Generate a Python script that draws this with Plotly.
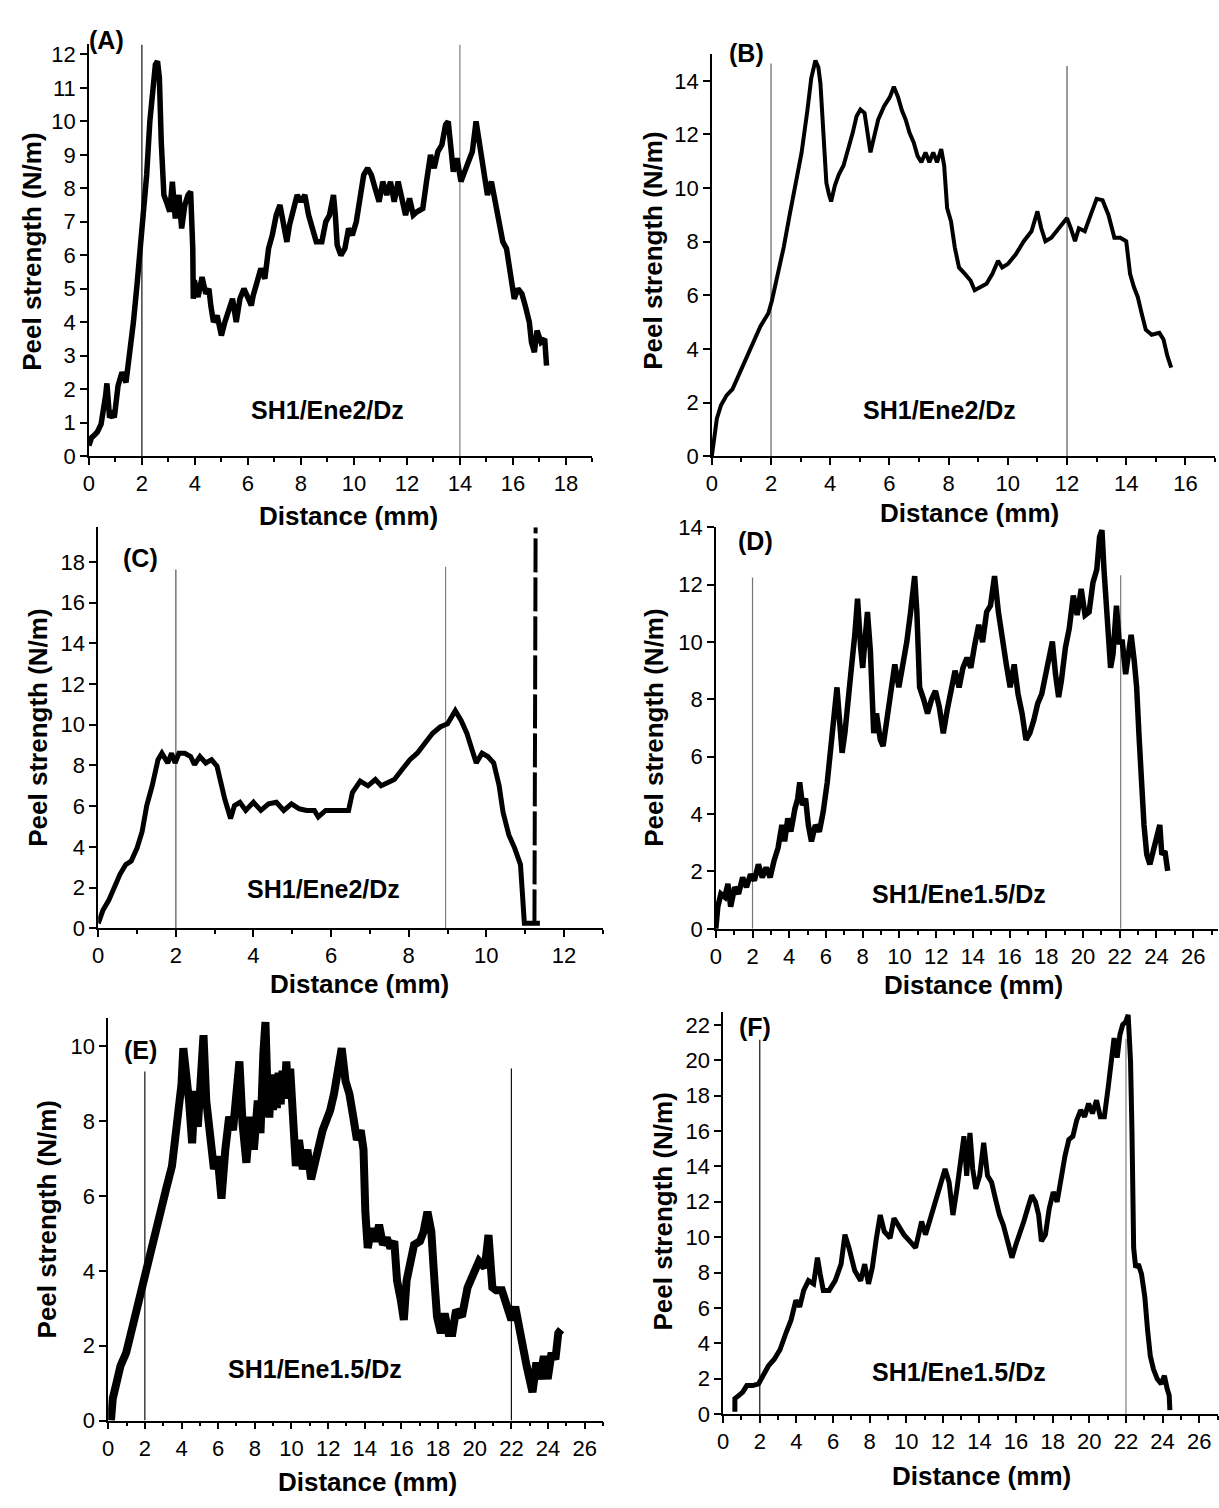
import plotly.graph_objects as go

W, H = 1219, 1508

# ---------------- data: peel strength (N/m) vs distance (mm) ----------------
# (A) SH1/Ene2/Dz
a_x = [0.00, 0.10, 0.20, 0.32, 0.46, 0.57, 0.63, 0.68, 0.72, 0.78, 0.88, 0.96,
       1.10, 1.25, 1.40, 1.54, 1.68, 1.82, 1.94, 2.04, 2.18, 2.30, 2.40, 2.51,
       2.59, 2.66, 2.73, 2.79, 2.83, 2.97, 3.05, 3.15, 3.26, 3.40, 3.50, 3.62,
       3.74, 3.84, 3.90, 3.92, 3.94, 3.98, 4.12, 4.27, 4.41, 4.53, 4.60, 4.70,
       4.84, 5.00, 5.13, 5.27, 5.42, 5.56, 5.70, 5.85, 5.99, 6.13, 6.20, 6.35,
       6.49, 6.64, 6.78, 6.92, 7.07, 7.21, 7.36, 7.47, 7.57, 7.72, 7.86, 8.00,
       8.15, 8.29, 8.43, 8.58, 8.79, 8.94, 9.08, 9.23, 9.30, 9.37, 9.51, 9.66,
       9.80, 9.94, 10.09, 10.23, 10.37, 10.52, 10.66, 10.80, 10.95, 11.09, 11.24, 11.38,
       11.52, 11.67, 11.81, 11.95, 12.10, 12.24, 12.38, 12.60, 12.74, 12.89, 13.03, 13.17,
       13.32, 13.46, 13.56, 13.65, 13.75, 13.89, 14.04, 14.18, 14.33, 14.47, 14.61, 14.76,
       14.90, 15.04, 15.19, 15.33, 15.47, 15.62, 15.76, 15.90, 16.05, 16.19, 16.34, 16.48,
       16.62, 16.70, 16.81, 16.91, 17.06, 17.20, 17.27]
a_y = [0.31, 0.55, 0.62, 0.72, 0.95, 1.40, 1.80, 2.17, 1.50, 1.15, 1.25, 1.15,
       2.10, 2.50, 2.20, 3.00, 4.00, 5.15, 6.20, 7.40, 8.40, 10.00, 10.80, 11.70,
       11.80, 11.30, 9.40, 8.40, 7.80, 7.50, 7.30, 8.20, 7.10, 7.80, 6.80, 7.50,
       7.80, 7.90, 6.90, 6.20, 4.70, 5.25, 4.75, 5.35, 4.85, 5.00, 4.50, 4.00,
       4.20, 3.60, 4.00, 4.30, 4.70, 4.00, 4.70, 5.00, 4.70, 4.50, 4.80, 5.25,
       5.60, 5.30, 6.20, 6.60, 7.20, 7.50, 6.90, 6.40, 6.90, 7.40, 7.80, 7.60,
       7.80, 7.20, 6.80, 6.40, 6.40, 7.00, 7.20, 7.80, 7.20, 6.30, 6.00, 6.20,
       6.80, 6.60, 7.00, 7.60, 8.40, 8.60, 8.40, 8.00, 7.60, 8.20, 7.80, 8.20,
       7.60, 8.20, 7.60, 7.20, 7.70, 7.20, 7.30, 7.40, 8.20, 9.00, 8.60, 9.10,
       9.30, 9.90, 10.00, 9.10, 8.50, 8.90, 8.20, 8.50, 8.80, 9.10, 10.00, 9.30,
       8.50, 7.80, 8.20, 7.60, 7.20, 6.40, 6.20, 5.40, 4.70, 5.00, 4.85, 4.45,
       4.00, 3.40, 3.10, 3.75, 3.40, 3.50, 2.70]

# (B) SH1/Ene2/Dz
b_x = [0.00, 0.08, 0.17, 0.31, 0.50, 0.70, 0.90, 1.10, 1.37, 1.64, 1.91, 2.03,
       2.23, 2.43, 2.63, 2.83, 3.03, 3.23, 3.36, 3.50, 3.60, 3.67, 3.73, 3.80,
       3.87, 3.96, 4.03, 4.16, 4.29, 4.45, 4.62, 4.76, 4.89, 5.02, 5.16, 5.25,
       5.36, 5.49, 5.62, 5.82, 6.02, 6.15, 6.29, 6.42, 6.55, 6.68, 6.82, 6.95,
       7.08, 7.22, 7.35, 7.48, 7.61, 7.75, 7.85, 7.95, 8.08, 8.21, 8.35, 8.55,
       8.74, 8.88, 9.08, 9.28, 9.48, 9.67, 9.81, 10.00, 10.27, 10.54, 10.80, 11.00,
       11.13, 11.27, 11.47, 11.73, 12.00, 12.13, 12.27, 12.40, 12.60, 12.80, 13.00, 13.20,
       13.40, 13.60, 13.80, 14.00, 14.13, 14.26, 14.39, 14.52, 14.66, 14.86, 15.12, 15.26,
       15.39, 15.52]
b_y = [0.00, 0.80, 1.40, 1.90, 2.27, 2.50, 3.00, 3.50, 4.10, 4.84, 5.33, 5.80,
       6.80, 7.80, 9.00, 10.20, 11.30, 12.90, 14.10, 14.76, 14.50, 13.90, 12.60, 11.45,
       10.20, 9.75, 9.50, 10.10, 10.50, 10.84, 11.45, 12.06, 12.68, 12.93, 12.80, 12.19,
       11.33, 11.94, 12.55, 13.05, 13.40, 13.78, 13.40, 12.90, 12.55, 12.06, 11.70, 11.20,
       10.96, 11.33, 10.96, 11.33, 10.96, 11.45, 10.84, 9.25, 8.76, 7.78, 7.04, 6.80,
       6.55, 6.19, 6.31, 6.43, 6.80, 7.29, 7.04, 7.17, 7.53, 8.02, 8.39, 9.13,
       8.50, 8.02, 8.15, 8.50, 8.88, 8.50, 8.02, 8.50, 8.39, 9.00, 9.60, 9.55,
       9.00, 8.15, 8.15, 8.02, 6.80, 6.31, 5.94, 5.33, 4.72, 4.53, 4.60, 4.35,
       3.74, 3.30]

# (C) SH1/Ene2/Dz
c_x = [0.00, 0.12, 0.27, 0.41, 0.56, 0.71, 0.85, 1.00, 1.13, 1.25, 1.39, 1.54,
       1.64, 1.79, 1.89, 1.98, 2.08, 2.23, 2.38, 2.48, 2.62, 2.77, 2.92, 3.06,
       3.16, 3.26, 3.41, 3.51, 3.65, 3.80, 4.00, 4.19, 4.39, 4.59, 4.78, 4.98,
       5.18, 5.37, 5.57, 5.67, 5.86, 6.06, 6.26, 6.45, 6.55, 6.75, 6.95, 7.14,
       7.29, 7.44, 7.63, 7.83, 8.03, 8.22, 8.42, 8.61, 8.81, 9.00, 9.20, 9.35,
       9.50, 9.65, 9.74, 9.89, 10.04, 10.19, 10.33, 10.43, 10.58, 10.73, 10.88, 10.92,
       10.97, 10.98, 11.12, 11.25, 11.38]
c_y = [0.24, 0.88, 1.37, 2.00, 2.65, 3.13, 3.30, 3.94, 4.74, 6.03, 7.00, 8.28,
       8.60, 8.12, 8.60, 8.12, 8.60, 8.60, 8.44, 8.04, 8.44, 8.12, 8.28, 7.96,
       7.00, 6.35, 5.39, 6.03, 6.19, 5.79, 6.19, 5.79, 6.11, 6.19, 5.79, 6.11,
       5.87, 5.79, 5.79, 5.47, 5.79, 5.79, 5.79, 5.79, 6.67, 7.23, 7.00, 7.31,
       7.00, 7.15, 7.31, 7.80, 8.28, 8.60, 9.08, 9.57, 9.89, 10.05, 10.69, 10.21,
       9.57, 8.60, 8.12, 8.60, 8.44, 8.12, 7.00, 5.71, 4.58, 3.94, 3.13, 2.00,
       0.72, 0.24, 0.24, 0.24, 0.24]
# final rupture spike
c_spike_x = [11.24, 11.27]
c_spike_y = [0.24, 19.70]

# (D) SH1/Ene1.5/Dz
d_x = [0.00, 0.11, 0.28, 0.49, 0.66, 0.81, 1.03, 1.24, 1.46, 1.67, 1.89, 2.10,
       2.32, 2.53, 2.74, 2.96, 3.17, 3.39, 3.60, 3.75, 3.92, 4.09, 4.31, 4.46,
       4.57, 4.72, 4.89, 5.04, 5.21, 5.42, 5.64, 5.85, 6.07, 6.24, 6.39, 6.60,
       6.71, 6.88, 7.03, 7.18, 7.35, 7.57, 7.72, 7.89, 8.00, 8.15, 8.26, 8.42,
       8.60, 8.75, 8.96, 9.11, 9.32, 9.54, 9.75, 9.97, 10.18, 10.40, 10.61, 10.83,
       10.95, 11.10, 11.32, 11.53, 11.75, 11.96, 12.17, 12.39, 12.60, 12.82, 13.03, 13.25,
       13.46, 13.68, 13.89, 14.10, 14.32, 14.53, 14.75, 14.96, 15.18, 15.39, 15.61, 15.82,
       16.03, 16.25, 16.46, 16.68, 16.89, 17.10, 17.32, 17.53, 17.75, 17.96, 18.18, 18.33,
       18.50, 18.67, 18.82, 19.04, 19.25, 19.47, 19.68, 19.90, 20.11, 20.33, 20.54, 20.75,
       20.90, 21.03, 21.14, 21.25, 21.40, 21.50, 21.63, 21.82, 21.97, 22.14, 22.32, 22.47,
       22.62, 22.79, 22.92, 23.05, 23.17, 23.32, 23.47, 23.64, 23.82, 24.03, 24.18, 24.29,
       24.46, 24.61]
d_y = [0.00, 0.77, 1.22, 1.11, 1.57, 0.77, 1.45, 1.22, 1.79, 1.45, 1.90, 1.68,
       2.25, 1.79, 2.14, 1.79, 2.37, 2.82, 3.62, 3.05, 3.85, 3.39, 4.19, 4.54,
       5.11, 4.31, 4.54, 3.62, 3.05, 3.62, 3.39, 4.08, 5.11, 6.25, 6.82, 8.42,
       7.51, 6.14, 6.82, 7.62, 8.88, 10.25, 11.51, 9.80, 9.10, 10.25, 11.05, 9.68,
       6.82, 7.51, 6.59, 6.37, 7.28, 8.00, 9.22, 8.42, 9.10, 10.00, 11.05, 12.30,
       11.05, 8.42, 8.00, 7.51, 8.00, 8.30, 7.74, 6.82, 7.62, 8.42, 9.00, 8.42,
       9.10, 9.45, 9.10, 9.90, 10.60, 10.00, 11.05, 11.27, 12.30, 11.05, 10.00, 9.22,
       8.42, 9.22, 8.19, 7.51, 6.59, 6.82, 7.28, 7.85, 8.19, 8.88, 9.45, 10.02,
       8.88, 8.08, 8.65, 9.80, 10.48, 11.62, 10.94, 11.85, 10.94, 11.05, 12.07, 12.53,
       13.67, 13.90, 12.53, 11.62, 10.48, 9.10, 9.56, 11.27, 10.00, 10.00, 8.88, 9.68,
       10.25, 9.33, 8.42, 6.71, 4.88, 3.62, 2.59, 2.25, 2.71, 3.17, 3.62, 2.59,
       2.71, 2.02]

# (E) SH1/Ene1.5/Dz
e_x = [0.15, 0.25, 0.46, 0.67, 0.98, 1.19, 1.50, 1.81, 2.02, 2.23, 2.54, 2.85,
       3.16, 3.48, 3.79, 4.00, 4.10, 4.25, 4.41, 4.58, 4.73, 4.89, 5.04, 5.20,
       5.35, 5.56, 5.77, 5.97, 6.18, 6.39, 6.60, 6.81, 7.02, 7.16, 7.33, 7.54,
       7.75, 7.95, 8.16, 8.31, 8.47, 8.58, 8.68, 8.79, 8.89, 8.99, 9.10, 9.20,
       9.30, 9.41, 9.51, 9.62, 9.72, 9.83, 9.93, 10.08, 10.24, 10.41, 10.62, 10.87,
       11.07, 11.28, 11.49, 11.70, 11.91, 12.11, 12.32, 12.53, 12.74, 12.95, 13.16, 13.37,
       13.57, 13.78, 13.93, 14.03, 14.16, 14.37, 14.57, 14.78, 14.99, 15.20, 15.40, 15.61,
       15.76, 15.97, 16.13, 16.28, 16.49, 16.69, 17.01, 17.21, 17.42, 17.63, 17.80, 17.94,
       18.15, 18.36, 18.57, 18.78, 18.98, 19.30, 19.61, 19.92, 20.23, 20.55, 20.75, 20.96,
       21.17, 21.48, 21.79, 22.00, 22.21, 22.42, 22.62, 22.83, 23.04, 23.15, 23.36, 23.56,
       23.77, 23.98, 24.19, 24.40, 24.56, 24.71]
e_y = [0.00, 0.59, 1.02, 1.46, 1.81, 2.25, 2.86, 3.39, 3.91, 4.26, 4.96, 5.67,
       6.19, 6.80, 7.94, 8.99, 9.95, 9.33, 8.55, 7.41, 8.81, 7.85, 9.42, 10.30,
       8.55, 7.41, 6.72, 7.06, 5.93, 7.24, 8.12, 7.76, 8.99, 9.60, 7.94, 6.89,
       8.12, 7.24, 8.55, 7.68, 9.86, 10.65, 8.99, 8.10, 9.20, 8.30, 9.25, 8.35,
       9.30, 8.45, 9.35, 8.60, 9.60, 8.70, 9.40, 8.12, 6.80, 7.50, 6.72, 7.24,
       6.45, 6.89, 7.41, 7.76, 8.03, 8.29, 8.73, 9.25, 9.95, 9.07, 8.73, 8.12,
       7.50, 7.76, 7.24, 5.58, 4.61, 5.14, 4.79, 5.23, 4.70, 4.88, 4.61, 4.79,
       3.74, 3.21, 2.69, 3.74, 4.35, 4.70, 4.79, 5.05, 5.58, 5.05, 3.74, 2.78,
       2.34, 2.86, 2.34, 2.34, 2.95, 2.78, 3.56, 3.91, 4.26, 4.09, 4.96, 3.56,
       3.48, 3.48, 2.95, 2.69, 3.04, 2.34, 1.99, 1.46, 1.11, 0.76, 1.55, 1.11,
       1.72, 1.11, 1.81, 1.64, 2.34, 2.43]

# (F) SH1/Ene1.5/Dz
f_x = [0.64, 0.64, 0.86, 1.07, 1.29, 1.61, 1.93, 2.15, 2.47, 2.79, 3.11, 3.43,
       3.71, 3.97, 4.18, 4.40, 4.66, 4.94, 5.15, 5.30, 5.47, 5.79, 6.12, 6.44,
       6.65, 6.87, 7.19, 7.51, 7.73, 7.94, 8.15, 8.37, 8.58, 8.80, 9.12, 9.33,
       9.55, 9.87, 10.19, 10.51, 10.84, 11.05, 11.27, 11.48, 11.70, 11.91, 12.12, 12.34,
       12.55, 12.77, 12.98, 13.15, 13.30, 13.48, 13.63, 13.80, 14.01, 14.23, 14.44, 14.66,
       14.87, 15.09, 15.30, 15.45, 15.67, 15.77, 15.99, 16.20, 16.42, 16.63, 16.85, 17.06,
       17.23, 17.38, 17.60, 17.81, 18.03, 18.24, 18.45, 18.67, 18.88, 19.10, 19.31, 19.53,
       19.74, 19.96, 20.17, 20.39, 20.60, 20.82, 21.03, 21.18, 21.35, 21.52, 21.67, 21.82,
       21.99, 22.12, 22.25, 22.33, 22.38, 22.42, 22.53, 22.68, 22.85, 23.03, 23.18, 23.33,
       23.50, 23.71, 23.93, 24.10, 24.25, 24.36, 24.40]
f_y = [0.13, 0.87, 1.06, 1.24, 1.61, 1.61, 1.70, 2.17, 2.72, 3.10, 3.65, 4.58,
       5.32, 6.43, 6.06, 6.99, 7.54, 7.36, 8.84, 7.91, 6.99, 6.99, 7.54, 8.47,
       10.14, 9.40, 8.10, 7.54, 8.47, 7.36, 8.29, 9.95, 11.25, 10.32, 9.95, 11.07,
       10.69, 10.14, 9.77, 9.40, 10.88, 10.14, 10.88, 11.62, 12.18, 12.90, 13.85, 13.10,
       11.25, 12.73, 14.20, 15.70, 13.47, 15.89, 13.85, 12.73, 13.47, 15.33, 13.47, 13.10,
       12.18, 11.25, 10.69, 10.14, 9.40, 8.84, 9.58, 10.14, 10.88, 11.62, 12.36, 11.99,
       11.25, 9.77, 10.14, 11.62, 12.55, 11.99, 13.47, 14.59, 15.51, 15.70, 16.61, 17.18,
       16.80, 17.55, 16.99, 17.74, 16.80, 16.80, 18.47, 19.96, 21.25, 20.14, 21.44, 22.00,
       22.18, 22.56, 19.96, 15.89, 12.36, 9.40, 8.29, 8.47, 7.91, 6.62, 4.76, 3.28,
       2.54, 1.98, 1.70, 2.17, 1.43, 1.06, 0.22]

# start / end of the steady-state peeling window in each panel
vlines = {
    "A": ([2.0, 14.0], [12.3, 12.3], ["#111111", "#808080"]),
    "B": ([2.0, 12.0], [14.65, 14.55], ["#666666", "#555555"]),
    "C": ([2.0, 8.95], [17.63, 17.76], ["#555555", "#808080"]),
    "D": ([2.0, 22.05], [12.25, 12.33], ["#777777", "#777777"]),
    "E": ([2.0, 22.0], [9.33, 9.41], ["#111111", "#111111"]),
    "F": ([2.0, 22.0], [21.16, 21.2], ["#111111", "#808080"]),
}

panel_letters = ["(A)", "(B)", "(C)", "(D)", "(E)", "(F)"]
sample_names = ["SH1/Ene2/Dz", "SH1/Ene2/Dz", "SH1/Ene2/Dz",
                "SH1/Ene1.5/Dz", "SH1/Ene1.5/Dz", "SH1/Ene1.5/Dz"]

# ---------------- layout geometry (pixels) ----------------
# left, right, top, bottom of each plot box
boxes = [
    (83.3, 589.3, 33.0, 451.5),
    (709.3, 1215.0, 42.7, 451.7),
    (92.7, 599.7, 524.0, 931.7),
    (713.3, 1218.0, 524.0, 932.3),
    (102.7, 600.0, 1023.3, 1432.3),
    (720.7, 1217.5, 1017.3, 1425.7),
]
x_ranges = [[0, 19], [0, 17], [0, 13], [0, 27.35], [0, 27], [0, 27]]
y_ranges = [[0, 12.3], [0, 15], [0, 19.7], [0, 14], [0, 10.75], [0, 22.7]]
y_dticks = [1, 2, 2, 2, 2, 2]
trace_widths = [5.5, 4.0, 5.0, 5.5, 8.0, 5.0]

letter_pos = [(101, 28), (744, 42), (135, 555), (753, 538), (135, 1055), (753, 1032)]
sample_pos = [(323, 405), (938, 405), (319, 892), (958, 897), (311, 1380), (958, 1383)]
xtitle_pos = [(344, 513), (968, 509), (355, 988), (972, 989), (363, 1495), (980, 1489)]
ytitle_pos = [(26, 244), (650, 243), (32, 728), (651, 728), (41, 1228), (660, 1220)]

FONT = "Liberation Sans, Arial, sans-serif"
TICK_SIZE = 22
TITLE_SIZE = 26


def px(x):
    return x / W


def py(y):
    return 1 - y / H


fig = go.Figure()

series = [(a_x, a_y), (b_x, b_y), (c_x, c_y), (d_x, d_y), (e_x, e_y), (f_x, f_y)]

for i, (xs, ys) in enumerate(series):
    n = "" if i == 0 else str(i + 1)
    fig.add_trace(go.Scatter(x=xs, y=ys, mode="lines", xaxis="x" + n, yaxis="y" + n,
                             line=dict(color="black", width=trace_widths[i]),
                             hoverinfo="skip"))

# rupture spike at the end of test (C)
fig.add_trace(go.Scatter(x=c_spike_x, y=c_spike_y, mode="lines", xaxis="x3", yaxis="y3",
                         line=dict(color="black", width=4, dash="34px,5px"), hoverinfo="skip"))

layout = dict(
    width=W, height=H, margin=dict(l=0, r=0, t=0, b=0),
    paper_bgcolor="white", plot_bgcolor="white", showlegend=False,
)

shapes = []
annotations = []

for i, key in enumerate("ABCDEF"):
    n = "" if i == 0 else str(i + 1)
    l, r, t, b = boxes[i]
    layout["xaxis" + n] = dict(
        domain=[px(l), px(r)], range=x_ranges[i], anchor="y" + n,
        tick0=0, dtick=2, showgrid=False, zeroline=False,
        showline=True, linecolor="black", linewidth=1.5,
        ticks="outside", ticklen=7, tickwidth=1.5, tickcolor="black",
        minor=dict(ticks="outside", ticklen=4, tickwidth=1.5, tickcolor="black",
                   tick0=0, dtick=1, showgrid=False),
        tickfont=dict(family=FONT, size=TICK_SIZE, color="black"), fixedrange=True,
    )
    layout["yaxis" + n] = dict(
        domain=[py(b), py(t)], range=y_ranges[i], anchor="x" + n,
        tick0=0, dtick=y_dticks[i], showgrid=False, zeroline=False,
        showline=True, linecolor="black", linewidth=1.5,
        ticks="outside", ticklen=7, tickwidth=1.5, tickcolor="black",
        tickfont=dict(family=FONT, size=TICK_SIZE, color="black"), fixedrange=True,
    )

    xs, tops, cols = vlines[key]
    for xv, top, col in zip(xs, tops, cols):
        shapes.append(dict(type="line", xref="x" + n, yref="y" + n,
                           x0=xv, x1=xv, y0=0, y1=top,
                           line=dict(color=col, width=1.2), layer="below"))

    annotations.append(dict(text="<b>" + panel_letters[i] + "</b>", xref="paper", yref="paper",
                            x=px(letter_pos[i][0]), y=py(letter_pos[i][1]),
                            xanchor="center", yanchor="middle", showarrow=False,
                            font=dict(family=FONT, size=25, color="black")))
    annotations.append(dict(text="<b>" + sample_names[i] + "</b>", xref="paper", yref="paper",
                            x=px(sample_pos[i][0]), y=py(sample_pos[i][1]),
                            xanchor="center", yanchor="middle", showarrow=False,
                            font=dict(family=FONT, size=25, color="black")))
    annotations.append(dict(text="<b>Distance (mm)</b>", xref="paper", yref="paper",
                            x=px(xtitle_pos[i][0]), y=py(xtitle_pos[i][1]),
                            xanchor="center", yanchor="middle", showarrow=False,
                            font=dict(family=FONT, size=TITLE_SIZE, color="black")))
    annotations.append(dict(text="<b>Peel strength (N/m)</b>", xref="paper", yref="paper",
                            x=px(ytitle_pos[i][0]), y=py(ytitle_pos[i][1]),
                            xanchor="center", yanchor="middle", showarrow=False, textangle=-90,
                            font=dict(family=FONT, size=TITLE_SIZE, color="black")))

layout["shapes"] = shapes
layout["annotations"] = annotations
fig.update_layout(**layout)

fig.write_html("out.html")
